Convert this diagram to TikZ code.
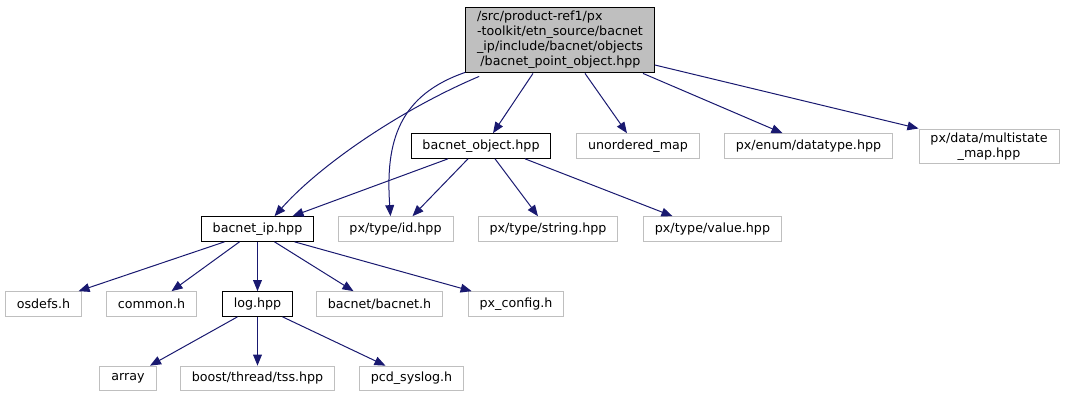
\documentclass[tikz,border=0pt]{standalone}
\usepackage{fontspec}
\setmainfont{DejaVu Sans}
\usetikzlibrary{arrows.meta,calc}
\definecolor{edgeblue}{HTML}{191970}
\definecolor{boxgray}{HTML}{BFBFBF}

\begin{document}
\begin{tikzpicture}[
  x=0.75pt, y=-0.75pt,
  box/.style={draw, line width=0.75pt, inner xsep=8.6pt, inner ysep=2pt,
              minimum height=18.5pt, font=\fontsize{9.5}{11.3}\selectfont},
  root/.style={box, fill=boxgray, align=left, inner ysep=3pt},
  hdr/.style={box, draw=black, fill=white},
  sys/.style={box, draw=boxgray, fill=white},
  inc/.style={->, draw=edgeblue, line width=0.75pt},
  >={Triangle[length=8.3pt,width=6.6pt]}
]
\useasboundingbox (0,0) rectangle (1065,397);

\node[root] (top) at (560,40)
  {/src/product-ref1/px\\-toolkit/etn\_source/bacnet\\\_ip/include/bacnet/objects\\\hspace*{2.5pt}/bacnet\_point\_object.hpp};

\node[hdr] (obj)    at (481,146)   {bacnet\_object.hpp};
\node[sys] (umap)   at (638,146)   {unordered\_map};
\node[sys] (dtype)  at (808.5,146) {px/enum/datatype.hpp};
\node[sys, align=center] (mstate) at (989,146.5) {px/data/multistate\\\_map.hpp};

\node[hdr] (ip)     at (257.5,229) {bacnet\_ip.hpp};
\node[sys] (id)     at (395.5,229) {px/type/id.hpp};
\node[sys] (str)    at (548,229)   {px/type/string.hpp};
\node[sys] (val)    at (712.5,229) {px/type/value.hpp};

\node[sys] (osdefs) at (43.5,304)  {osdefs.h};
\node[sys] (common) at (151.5,304) {common.h};
\node[hdr] (log)    at (257.5,304) {log.hpp};
\node[sys] (bh)     at (379.5,304) {bacnet/bacnet.h};
\node[sys] (pxc)    at (516,304)   {px\_config.h};

\node[sys] (array)  at (128,378.5)   {array};
\node[sys] (tss)    at (257.5,378.5) {boost/thread/tss.hpp};
\node[sys] (pcd)    at (411.5,378.5) {pcd\_syslog.h};

% includes of the point object
\draw[inc] ($(top.south west)+(14,3)$) .. controls (400,110) and (320,165) .. ($(ip.north)+(17,0)$);
\draw[inc] ($(top.south west)+(0,-1)$) .. controls (400,95) and (385,140) .. ($(id.north)+(-5,0)$);
\draw[inc] ($(top.south)+(-27,0)$) -- ($(obj.north)+(12,0)$);
\draw[inc] ($(top.south)+(25,0)$) -- ($(umap.north)+(-11,0)$);
\draw[inc] ($(top.south)+(83,0)$) -- ($(dtype.north)+(-26,0)$);
\draw[inc] ($(top.east)+(0,25)$) -- ($(mstate.west)+(0,-18)$);

% bacnet_object.hpp
\draw[inc] ($(obj.south)+(-33,0)$) -- ($(ip.north)+(35,0)$);
\draw[inc] ($(obj.south)+(-13,0)$) -- ($(id.north)+(17,0)$);
\draw[inc] ($(obj.south)+(14,0)$) -- ($(str.north)+(-10,0)$);
\draw[inc] ($(obj.south)+(44,0)$) -- ($(val.north)+(-40,0)$);

% bacnet_ip.hpp
\draw[inc] ($(ip.south)+(-33,0)$) -- ($(osdefs.north)+(35,0)$);
\draw[inc] ($(ip.south)+(-18,0)$) -- ($(common.north)+(20,0)$);
\draw[inc] (ip) -- (log);
\draw[inc] ($(ip.south)+(17,0)$) -- ($(bh.north)+(-26,0)$);
\draw[inc] ($(ip.south)+(37,0)$) -- ($(pxc.north west)+(4,0)$);

% log.hpp
\draw[inc] ($(log.south)+(-20,0)$) -- ($(array.north)+(22,0)$);
\draw[inc] (log) -- (tss);
\draw[inc] ($(log.south)+(25,0)$) -- ($(pcd.north)+(-26,0)$);
\end{tikzpicture}
\end{document}
